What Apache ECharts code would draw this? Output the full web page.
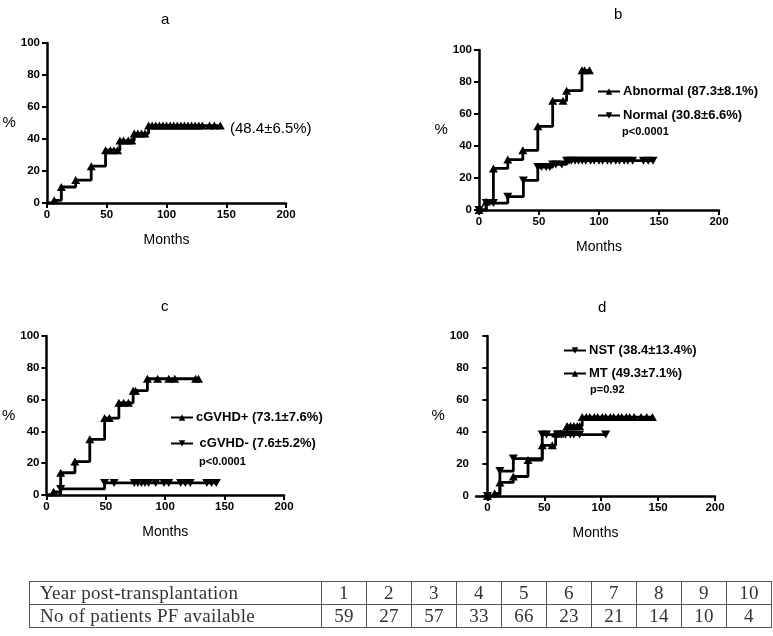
<!DOCTYPE html>
<html>
<head>
<meta charset="utf-8">
<script src="https://cdn.jsdelivr.net/npm/echarts@6/dist/echarts.min.js"></script>
<style>
  html, body { margin: 0; padding: 0; background: #fff; }
  #wrap { position: relative; width: 773px; height: 636px; overflow: hidden; }
  #chart { position: absolute; left: 0; top: 0; width: 773px; height: 636px; }
  #tbl { position: absolute; left: 29px; top: 581px; border-collapse: collapse;
         font-family: "Liberation Serif", "DejaVu Serif", serif; font-size: 19px; color: #333; letter-spacing: 0.3px; }
  #tbl td { border: 1.5px solid #555; height: 22px; line-height: 22px; padding: 0; text-align: center; width: 44px; }
  #tbl td.h { text-align: left; padding-left: 10px; width: 281px; }
</style>
</head>
<body>
<div id="wrap">
  <div id="chart"></div>
  <table id="tbl"><tbody id="tb"></tbody></table>
</div>
<script>
// ---------- Data ----------
// Panel a: overall cumulative incidence (up triangles)
const aMonths = [0, 6, 12, 24, 37, 49, 53, 56, 59, 61, 64, 68, 71, 73, 76, 79, 82, 85, 88, 91, 94, 97, 100, 103, 106, 109, 112, 115, 118, 121, 124, 127, 130, 136, 140, 145];
const aPct    = [0, 1.7, 10, 14.3, 23, 33, 33, 33, 33, 39, 39, 39, 39, 43.5, 43.5, 43.5, 43.5, 48.4, 48.4, 48.4, 48.4, 48.4, 48.4, 48.4, 48.4, 48.4, 48.4, 48.4, 48.4, 48.4, 48.4, 48.4, 48.4, 48.4, 48.4, 48.4];

// Panel b
const bAbnMonths = [0, 6, 12, 24, 36.5, 49, 61.4, 70, 73, 85.8, 88, 92];
const bAbnPct    = [0, 5.2, 26, 31.5, 37.3, 52.3, 68.3, 68.3, 74.6, 87.3, 87.3, 87.3];
const bNorMonths = [0, 6, 12, 24, 37, 49, 52, 56, 59, 61.4, 64, 69, 73, 75, 77, 80, 83, 86, 89, 93, 96, 100, 103, 107, 110, 114, 117, 121, 124, 128, 137, 141, 145];
const bNorPct    = [0, 4.3, 4.3, 8.3, 18.5, 26.8, 26.8, 26.8, 26.8, 28.5, 28.5, 28.5, 30.8, 30.8, 30.8, 30.8, 30.8, 30.8, 30.8, 30.8, 30.8, 30.8, 30.8, 30.8, 30.8, 30.8, 30.8, 30.8, 30.8, 30.8, 30.8, 30.8, 30.8];

// Panel c
const cPosMonths = [0, 6, 12, 24, 36.5, 49, 53, 61, 65, 69, 73, 75, 85, 93.6, 103, 108, 125.6, 128];
const cPosPct    = [0, 2, 14, 21, 35, 48.4, 48.4, 58, 58, 58, 65.6, 65.6, 73.1, 73.1, 73.1, 73.1, 73.1, 73.1];
const cNegMonths = [0, 12, 49, 57, 74, 77, 80, 83, 86, 92, 99, 103, 113, 117, 121, 135, 139, 143];
const cNegPct    = [0, 3.8, 7.6, 7.6, 7.6, 7.6, 7.6, 7.6, 7.6, 7.6, 7.6, 7.6, 7.6, 7.6, 7.6, 7.6, 7.6, 7.6];

// Panel d
const dNstMonths = [0, 11, 22.8, 48.2, 52, 61.4, 65, 68.7, 73, 76, 81, 104];
const dNstPct    = [0, 15.6, 23.4, 38.4, 38.4, 38.4, 38.4, 38.4, 38.4, 38.4, 38.4, 38.4];
const dMtMonths  = [0, 6.4, 11, 22.8, 35.7, 48.2, 57, 60, 64, 70, 73, 76, 79, 81, 83.3, 87, 90, 94, 97, 101, 104, 108, 111, 115, 118, 122, 125, 129, 135, 140, 145];
const dMtPct     = [0, 1.7, 8.5, 12.2, 22.5, 31.7, 31.7, 39, 39, 43.8, 43.8, 43.8, 43.8, 43.8, 49.3, 49.3, 49.3, 49.3, 49.3, 49.3, 49.3, 49.3, 49.3, 49.3, 49.3, 49.3, 49.3, 49.3, 49.3, 49.3, 49.3];

// Table
const tableYears   = [1, 2, 3, 4, 5, 6, 7, 8, 9, 10];
const tablePatients = [59, 27, 57, 33, 66, 23, 21, 14, 10, 4];

// ---------- Build ----------
function pts(m, p, hideFirst) {
  return m.map((x, i) => (i === 0 && hideFirst) ? { value: [x, p[i]], symbol: 'none' } : [x, p[i]]);
}
const FONT = '"Liberation Sans", Arial, sans-serif';
const grids = [
  { left: 47,  top: 43,  width: 239, height: 160 },
  { left: 479, top: 50,  width: 240, height: 160 },
  { left: 45,  top: 336, width: 239, height: 159 },
  { left: 476, top: 336, width: 239, height: 160 }
];
const xMins = [0, 0, 0, -10];
const xAxes = grids.map((g, i) => ({
  type: 'value', gridIndex: i, min: xMins[i], max: 200, interval: 50,
  name: 'Months', nameLocation: 'middle', nameGap: 30,
  nameTextStyle: { fontFamily: FONT, fontSize: 14, color: '#000' },
  axisLine: { show: true, lineStyle: { color: '#000', width: 2.5 } },
  axisTick: { show: true, length: 5, lineStyle: { color: '#000', width: 2 },
              customValues: [0, 50, 100, 150, 200] },
  axisLabel: { fontFamily: FONT, fontWeight: 'bold', fontSize: 11.5, color: '#000', margin: 6,
               customValues: [0, 50, 100, 150, 200] },
  splitLine: { show: false }
}));
const yAxes = grids.map((g, i) => ({
  type: 'value', gridIndex: i, min: 0, max: 100, interval: 20,
  name: '%', nameLocation: 'middle', nameRotate: 0, nameGap: 27,
  nameTextStyle: { fontFamily: FONT, fontSize: 15, color: '#000' },
  axisLine: { show: true, lineStyle: { color: '#000', width: 2.5 } },
  axisTick: { show: true, length: 5, lineStyle: { color: '#000', width: 2 } },
  axisLabel: { fontFamily: FONT, fontWeight: 'bold', fontSize: 11.5, color: '#000', margin: 7 },
  splitLine: { show: false }
}));

function km(name, idx, data, down) {
  return {
    name: name, type: 'line', xAxisIndex: idx, yAxisIndex: idx, step: 'end',
    data: data, symbol: 'triangle', symbolSize: [9, 8], symbolRotate: down ? 180 : 0,
    showAllSymbol: true, animation: false,
    lineStyle: { color: '#000', width: 2.8 },
    itemStyle: { color: '#000', borderWidth: 0 }
  };
}

const series = [
  km('All', 0, pts(aMonths, aPct, true), false),
  km('Abnormal (87.3±8.1%)', 1, pts(bAbnMonths, bAbnPct, false), false),
  km('Normal (30.8±6.6%)', 1, pts(bNorMonths, bNorPct, false), true),
  km('cGVHD+ (73.1±7.6%)', 2, pts(cPosMonths, cPosPct, true), false),
  km(' cGVHD- (7.6±5.2%)', 2, pts(cNegMonths, cNegPct, true), true),
  km('NST (38.4±13.4%)', 3, pts(dNstMonths, dNstPct, false), true),
  km('MT (49.3±7.1%)', 3, pts(dMtMonths, dMtPct, false), false)
];

function leg(name, left, top) {
  return {
    data: [name], left: left, top: top, padding: 0, itemWidth: 22, itemHeight: 8,
    selectedMode: false,
    textStyle: { fontFamily: FONT, fontWeight: 'bold', fontSize: 13, color: '#000', padding: [0, 0, 0, -2] }
  };
}
const legends = [
  leg('Abnormal (87.3±8.1%)', 597, 85),
  leg('Normal (30.8±6.6%)', 597, 109),
  leg('cGVHD+ (73.1±7.6%)', 170, 411),
  leg(' cGVHD- (7.6±5.2%)', 170, 437),
  leg('NST (38.4±13.4%)', 563, 344),
  leg('MT (49.3±7.1%)', 563, 367)
];

const titles = [
  { text: 'a', left: 161, top: 12 },
  { text: 'b', left: 614, top: 7 },
  { text: 'c', left: 161, top: 299 },
  { text: 'd', left: 598, top: 300 }
].map(t => Object.assign(t, { padding: 0,
  textStyle: { fontFamily: FONT, fontWeight: 'normal', fontSize: 15, color: '#000' } }));

function txt(s, x, y, size, bold) {
  return { type: 'text', left: x, top: y,
    style: { text: s, fontFamily: FONT, fontSize: size, fontWeight: bold ? 'bold' : 'normal', fill: '#000' } };
}

const chart = echarts.init(document.getElementById('chart'), null, { renderer: 'canvas' });
chart.setOption({
  animation: false,
  backgroundColor: '#fff',
  title: titles,
  grid: grids,
  xAxis: xAxes,
  yAxis: yAxes,
  legend: legends,
  series: series,
  graphic: [
    txt('(48.4±6.5%)', 230, 121, 15, false),
    txt('p<0.0001', 622, 126, 11, true),
    txt('p<0.0001', 199, 456, 11, true),
    txt('p=0.92', 590, 384, 11, true)
  ]
});

// Table
const tb = document.getElementById('tb');
function row(label, vals) {
  const tr = document.createElement('tr');
  const th = document.createElement('td'); th.className = 'h'; th.textContent = label; tr.appendChild(th);
  vals.forEach(v => { const td = document.createElement('td'); td.textContent = v; tr.appendChild(td); });
  tb.appendChild(tr);
}
row('Year post-transplantation', tableYears);
row('No of patients PF available', tablePatients);
</script>
</body>
</html>
